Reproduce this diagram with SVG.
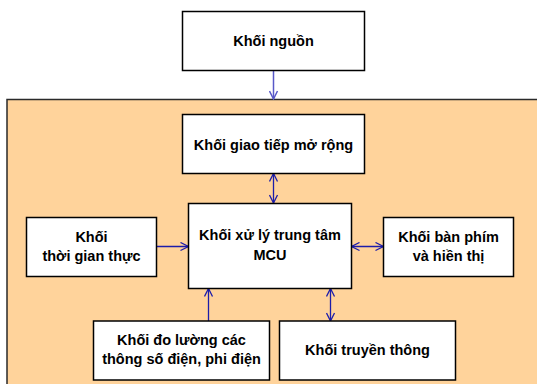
<svg xmlns="http://www.w3.org/2000/svg" width="537" height="384" viewBox="0 0 537 384">
<style>
.box{fill:#fff;stroke:#000;stroke-width:1.5}
.t{font-family:"Liberation Sans",Arial,sans-serif;font-weight:bold;font-size:14.5px;text-anchor:middle;fill:#000}
.c{stroke:#1c1caa;stroke-width:1.3;fill:none}
.c1{stroke:#5858c8;stroke-width:1.5;fill:none}
</style>
<defs>
<marker id="ah" viewBox="0 0 10 10" refX="9" refY="5" markerWidth="10" markerHeight="10" markerUnits="userSpaceOnUse" orient="auto-start-reverse">
<path d="M1,1 L9,5 L1,9" fill="none" stroke="#1c1caa" stroke-width="1.3"/>
</marker>
<marker id="ah1" viewBox="0 0 10 10" refX="9" refY="5" markerWidth="10" markerHeight="10" markerUnits="userSpaceOnUse" orient="auto">
<path d="M1,1 L9,5 L1,9" fill="none" stroke="#5858c8" stroke-width="1.5"/>
</marker>
</defs>
<rect x="7" y="99.5" width="540" height="300" fill="#ffd39b" stroke="#2a2a2a" stroke-width="1.5"/>
<g id="connectors">
<line class="c1" x1="273.5" y1="70.5" x2="273.5" y2="99" marker-end="url(#ah1)"/>
<line class="c" x1="273.5" y1="173.5" x2="273.5" y2="203" marker-start="url(#ah)" marker-end="url(#ah)"/>
<line class="c" x1="156.5" y1="246.5" x2="188.5" y2="246.5" marker-end="url(#ah)"/>
<line class="c" x1="351.5" y1="246.5" x2="383.5" y2="246.5" marker-start="url(#ah)" marker-end="url(#ah)"/>
<line class="c" x1="208.5" y1="321" x2="208.5" y2="288.5" marker-end="url(#ah)"/>
<line class="c" x1="330.5" y1="288.5" x2="330.5" y2="321" marker-start="url(#ah)" marker-end="url(#ah)"/>
</g>
<g id="nguon"><rect class="box" x="182.5" y="11.5" width="182" height="59"/><text class="t" x="273.5" y="45.5">Khối nguồn</text></g>
<g id="giaotiep"><rect class="box" x="182.5" y="114.5" width="182" height="59"/><text class="t" x="273.5" y="149.5">Khối giao tiếp mở rộng</text></g>
<g id="mcu"><rect class="box" x="188.5" y="203.5" width="163" height="85"/><text class="t" x="270" y="240">Khối xử lý trung tâm</text><text class="t" x="270" y="259.5">MCU</text></g>
<g id="thoigian"><rect class="box" x="26.5" y="217.5" width="130" height="59"/><text class="t" x="91.5" y="241.5">Khối</text><text class="t" x="91.5" y="260.5">thời gian thực</text></g>
<g id="banphim"><rect class="box" x="383.5" y="217.5" width="130" height="59"/><text class="t" x="448.5" y="241.5">Khối bàn phím</text><text class="t" x="448.5" y="260.5">và hiền thị</text></g>
<g id="doluong"><rect class="box" x="93.5" y="321" width="176" height="59"/><text class="t" x="181.5" y="345">Khối đo lường các</text><text class="t" x="181.5" y="363.5">thông số điện, phi điện</text></g>
<g id="truyenthong"><rect class="box" x="279.5" y="321" width="176" height="59"/><text class="t" x="367.5" y="355">Khối truyền thông</text></g>
</svg>
